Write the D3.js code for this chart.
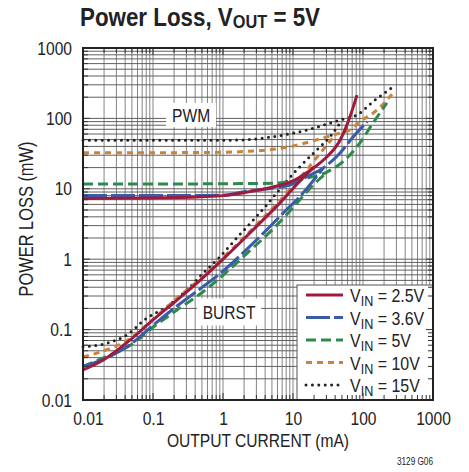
<!DOCTYPE html>
<html><head><meta charset="utf-8">
<script src="https://cdn.jsdelivr.net/npm/d3@7"></script>
<style>
body{margin:0;background:#fff;}
text{font-family:"Liberation Sans",Arial,sans-serif;fill:#222;}
</style></head>
<body><svg id="c" width="469" height="472"></svg>
<script>
// ---- data (output current mA, power loss mW) ----
const xTickValues = [0.01, 0.1, 1, 10, 100, 1000];
const xTickLabels = ["0.01", "0.1", "1", "10", "100", "1000"];
const yTickValues = [0.01, 0.1, 1, 10, 100, 1000];
const yTickLabels = ["0.01", "0.1", "1", "10", "100", "1000"];
const legendLabels = ["2.5V", "3.6V", "5V", "10V", "15V"];

// V_IN = 2.5V
const pwm25I   = [0.01, 0.1, 0.5, 1, 2, 5, 10, 15, 20, 30, 47, 65, 82];
const pwm25P   = [7.3, 7.4, 7.7, 8.0, 8.8, 10.5, 13, 16.5, 20, 28, 49, 105, 214];
const burst25I = [0.01, 0.0195, 0.047, 0.1, 0.22, 0.47, 1, 2, 3.4, 6.5, 9, 12, 20];
const burst25P = [0.0267, 0.037, 0.071, 0.137, 0.263, 0.5, 1.0, 1.95, 3.3, 6.3, 9.0, 12.3, 20.5];
// V_IN = 3.6V
const pwm36I   = [0.01, 0.1, 1, 2, 5, 9, 15, 27, 47, 72, 115];
const pwm36P   = [8.0, 8.0, 8.1, 9.1, 10.2, 11.3, 14.5, 19.7, 32.3, 54.4, 90];
const burst36I = [0.01, 0.02, 0.05, 0.1, 0.22, 0.52, 1.13, 2.18, 4.2, 8, 12, 20, 27];
const burst36P = [0.030, 0.038, 0.064, 0.115, 0.216, 0.407, 0.75, 1.38, 2.6, 5.0, 7.4, 13.5, 19.7];
// V_IN = 5V
const pwm5I    = [0.01, 0.1, 1, 5, 15.8, 30.6, 65, 90, 139, 220];
const pwm5P    = [11.7, 11.7, 11.8, 12.0, 14.2, 17.3, 30.2, 44.7, 86, 166];
const burst5I  = [0.01, 0.02, 0.05, 0.1, 0.22, 0.52, 1.13, 2.18, 5.2, 10, 16, 22, 30];
const burst5P  = [0.030, 0.040, 0.062, 0.108, 0.19, 0.345, 0.66, 1.2, 2.7, 5.4, 9.2, 12.8, 16.8];
// V_IN = 10V
const pwm10I   = [0.01, 0.1, 1, 1.75, 9, 27, 47, 65, 90, 158, 269];
const pwm10P   = [32.6, 32.6, 33, 33.6, 39.6, 52.7, 62, 68.4, 89.8, 131, 229];
const burst10I = [0.01, 0.02, 0.05, 0.1, 0.22, 0.47, 1, 2, 3.4, 6.5, 12, 20, 30, 40];
const burst10P = [0.041, 0.05, 0.078, 0.14, 0.28, 0.52, 1.05, 2.05, 3.5, 6.8, 13.5, 25, 41, 58];
// V_IN = 15V
const pwm15I   = [0.01, 0.1, 1, 1.75, 5.2, 15.8, 47, 82, 139, 269];
const pwm15P   = [49, 49, 49, 49.3, 55, 68.4, 95, 112, 173, 282];
const burst15I = [0.01, 0.022, 0.042, 0.081, 0.157, 0.303, 0.52, 0.9, 1.57, 2.71, 4.21, 5.2, 11.3, 21.8, 33.8, 50];
const burst15P = [0.057, 0.064, 0.084, 0.145, 0.211, 0.365, 0.63, 1.08, 2.0, 3.6, 5.9, 7.6, 18.5, 35.6, 55, 95];

const zip = (a, b) => a.map((v, i) => [v, b[i]]);
const series = [
  {key:"15V", color:"#222222", dash:"0,6.4", cap:"round", segs:[zip(pwm15I,pwm15P), zip(burst15I,burst15P)]},
  {key:"10V", color:"#c8833d", dash:"6,5", cap:"butt", segs:[zip(pwm10I,pwm10P), zip(burst10I,burst10P)]},
  {key:"5V",  color:"#2e8a4c", dash:"10,5", cap:"butt", segs:[zip(pwm5I,pwm5P), zip(burst5I,burst5P)]},
  {key:"3.6V",color:"#3a5ba8", dash:"24,4", cap:"butt", segs:[zip(pwm36I,pwm36P), zip(burst36I,burst36P)]},
  {key:"2.5V",color:"#9e1a3e", dash:null, cap:"butt", segs:[zip(pwm25I,pwm25P), zip(burst25I,burst25P)]}
];
const legendStyle = {"2.5V":series[4],"3.6V":series[3],"5V":series[2],"10V":series[1],"15V":series[0]};

// ---- layout ----
const L = 83, R = 433, T = 48, B = 400;
const svg = d3.select("#c");
const x = d3.scaleLog().domain([0.01, 1000]).range([L, R]);
const y = d3.scaleLog().domain([0.01, 1000]).range([B, T]);

const gridVals = [];
for (let e = -2; e < 3; e++) for (let k = 1; k < 10; k++) gridVals.push(k * Math.pow(10, e));
gridVals.push(1000);

const grid = svg.append("g");
grid.selectAll("line.v").data(gridVals).join("line")
  .attr("x1", d => x(d)).attr("x2", d => x(d)).attr("y1", T).attr("y2", B)
  .attr("stroke", "#858585").attr("stroke-width", 1);
grid.selectAll("line.h").data(gridVals).join("line")
  .attr("y1", d => y(d)).attr("y2", d => y(d)).attr("x1", L).attr("x2", R)
  .attr("stroke", "#606060").attr("stroke-width", 1);

function labelBox(txt, xv, yv, w, h) {
  const cx = x(xv), cy = y(yv);
  svg.append("rect").attr("x", cx - w/2).attr("y", cy - h/2).attr("width", w).attr("height", h).attr("fill", "#fff");
  svg.append("text").attr("class", "cond").attr("x", cx).attr("y", cy + 7).attr("text-anchor", "middle")
    .attr("font-size", 19).text(txt);
}
labelBox("PWM", 0.35, 112, 50, 24);
labelBox("BURST", 1.22, 0.178, 64, 27);

const line = d3.line().x(d => x(d[0])).y(d => y(d[1])).curve(d3.curveMonotoneX);
const gCurves = svg.append("g");
series.forEach(s => {
  s.segs.forEach(seg => {
    gCurves.append("path").attr("d", line(seg)).attr("fill", "none")
      .attr("stroke", s.color).attr("stroke-width", 3)
      .attr("stroke-dasharray", s.dash).attr("stroke-linecap", s.cap);
  });
});

const lg = svg.append("g");
lg.append("rect").attr("x", 297).attr("y", 285).attr("width", R - 297).attr("height", B - 285)
  .attr("fill", "#fff").attr("stroke", "#555").attr("stroke-width", 1);
legendLabels.forEach((lab, i) => {
  const s = legendStyle[lab];
  const cy = 295 + i * 22.5;
  lg.append("line").attr("x1", 306).attr("x2", 343).attr("y1", cy).attr("y2", cy)
    .attr("stroke", s.color).attr("stroke-width", 3)
    .attr("stroke-dasharray", s.dash).attr("stroke-linecap", s.cap);
  const t = lg.append("text").attr("transform", `translate(350,${cy + 7}) scale(0.84,1)`)
    .attr("font-size", 19);
  t.append("tspan").text("V");
  t.append("tspan").attr("font-size", 15).attr("dy", 4).text("IN");
  t.append("tspan").attr("dy", -4).text(" = " + lab);
});

const tk = svg.append("g").attr("stroke", "#333").attr("stroke-width", 1);
gridVals.forEach(v => {
  const len = xTickValues.includes(v) ? 7 : 5;
  tk.append("line").attr("x1", x(v)).attr("x2", x(v)).attr("y1", B).attr("y2", B - len);
  tk.append("line").attr("x1", x(v)).attr("x2", x(v)).attr("y1", T).attr("y2", T + len);
  tk.append("line").attr("y1", y(v)).attr("y2", y(v)).attr("x1", L).attr("x2", L + len);
  tk.append("line").attr("y1", y(v)).attr("y2", y(v)).attr("x1", R).attr("x2", R - len);
});

svg.append("rect").attr("x", L).attr("y", T).attr("width", R - L).attr("height", B - T)
  .attr("fill", "none").attr("stroke", "#222").attr("stroke-width", 2);

const xAxis = d3.axisBottom(x).tickValues(xTickValues)
  .tickFormat((d, i) => xTickLabels[i]).tickSize(0).tickPadding(11.5);
const gx = svg.append("g").attr("transform", `translate(0,${B})`).call(xAxis);
gx.select(".domain").remove();
gx.selectAll("text").attr("class", "cond").attr("font-size", 19).attr("font-family", null).attr("fill", "#222");
gx.selectAll(".tick").filter((d, i) => i === 0).select("text").attr("dx", 5);

const yAxis = d3.axisLeft(y).tickValues(yTickValues)
  .tickFormat((d, i) => yTickLabels[i]).tickSize(0).tickPadding(11);
const gy = svg.append("g").attr("transform", `translate(${L},0)`).call(yAxis);
gy.select(".domain").remove();
gy.selectAll("text").attr("class", "cond").attr("font-size", 19).attr("font-family", null).attr("fill", "#222");

svg.append("text").attr("class", "cond").attr("x", (L + R) / 2).attr("y", 447).attr("text-anchor", "middle")
  .attr("font-size", 19).text("OUTPUT CURRENT (mA)");
svg.append("text").attr("class", "cond").attr("transform", `translate(33,${(T + B) / 2 - 5}) rotate(-90)`)
  .attr("text-anchor", "middle").attr("font-size", 20).text("POWER LOSS (mW)");

const title = svg.append("text").attr("transform", "translate(80,26) scale(0.86,1)")
  .attr("font-size", 26).attr("font-weight", "bold");
title.append("tspan").text("Power Loss, V");
title.append("tspan").attr("font-size", 19).attr("dy", 2).text("OUT");
title.append("tspan").attr("dy", -2).text(" = 5V");

svg.append("text").attr("class", "cond").attr("x", 433).attr("y", 465).attr("text-anchor", "end")
  .attr("font-size", 10).text("3129 G06");

// condense single-run texts horizontally (narrow face look)
svg.selectAll("text.cond").each(function() {
  const w = this.getComputedTextLength();
  this.setAttribute("textLength", (w * 0.82).toFixed(2));
  this.setAttribute("lengthAdjust", "spacingAndGlyphs");
});
</script></body></html>
